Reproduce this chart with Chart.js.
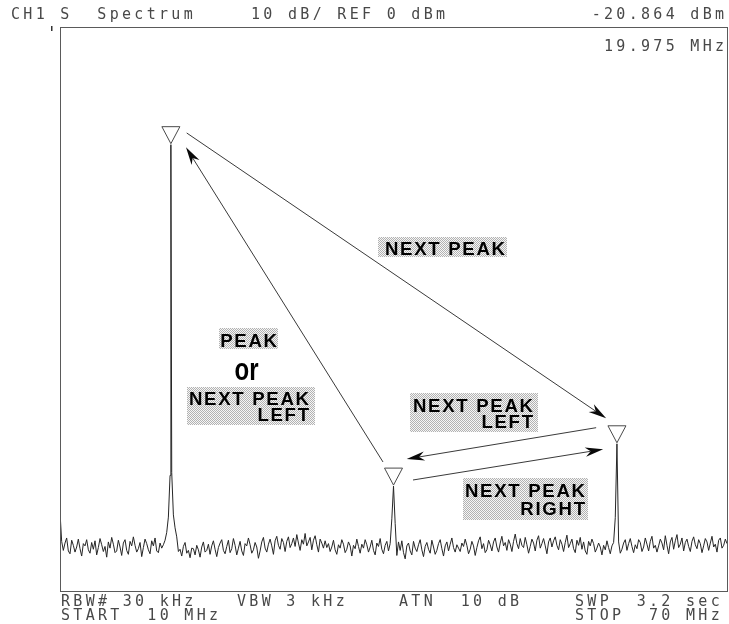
<!DOCTYPE html>
<html>
<head>
<meta charset="utf-8">
<title>CH1 Spectrum</title>
<script src="https://cdn.jsdelivr.net/npm/chart.js@4"></script>
<style>
  html, body { margin: 0; padding: 0; background: #fff; }
  canvas { display: block; }
</style>
</head>
<body>
<canvas id="spec" width="729" height="624"></canvas>
<script>
// sweep setup
var startMHz = 10;
var stopMHz = 70;
var refLevel = 0;       // dBm at top of screen
var bottomLevel = -100; // 10 dB/div, 10 divisions

// swept trace, 401 points from START to STOP, dBm
var noise = [
  -86.0, -91.2, -92.8, -91.5, -90.6, -92.9, -93.4, -91.0, -91.9, -93.1, -92.2, -90.8, -92.5, -93.8, -91.6, -92.0, -90.9, -92.7, -93.3, -91.4,
  -92.6, -91.1, -93.6, -92.3, -90.7, -91.8, -93.0, -92.1, -94.0, -91.3, -92.4, -90.5, -91.7, -93.2, -92.9, -91.0, -92.2, -93.7, -91.5, -90.9,
  -92.8, -93.5, -91.2, -92.0, -90.4, -91.9, -93.1, -92.5, -91.4, -93.9, -92.3, -90.8, -91.6, -92.7, -93.4, -91.1, -92.0, -90.6, -92.9, -93.2,
  -91.5, -92.4, -91.8, -92.3, -91.7, -92.9, -91.4, -92.6, -93.0, -92.2, -91.8, -93.0, -92.6, -93.8, -92.1, -91.4, -93.3, -92.8, -94.1, -92.4,
  -92.5, -93.6, -91.9, -92.7, -94.0, -92.2, -91.3, -93.1, -92.8, -91.7, -93.5, -92.0, -91.1, -92.6, -93.9, -92.3, -91.5, -90.9, -92.8, -93.4,
  -92.1, -91.0, -93.2, -92.5, -90.7, -91.9, -93.6, -92.4, -91.2, -92.9, -93.7, -91.6, -92.0, -90.6, -91.8, -93.3, -92.7, -91.4, -92.2, -94.2,
  -92.9, -91.3, -90.5, -92.4, -93.1, -91.7, -90.8, -92.0, -93.5, -91.1, -90.3, -91.9, -92.6, -90.7, -91.4, -93.0, -91.2, -90.4, -92.3, -91.6,
  -90.6, -92.1, -90.0, -91.5, -92.8, -90.9, -91.7, -89.8, -92.0, -91.3, -90.5, -92.7, -91.0, -90.2, -91.8, -93.1, -90.8, -91.5, -92.4, -91.1,
  -92.3, -91.6, -93.0, -92.2, -91.0, -92.7, -93.5, -91.8, -92.4, -90.9, -91.7, -93.2, -92.6, -91.3, -92.0, -93.8, -91.9, -92.5, -90.8, -92.1,
  -93.3, -91.7, -92.4, -90.9, -91.8, -93.1, -92.2, -91.0, -92.8, -93.6, -91.5, -92.1, -90.7, -92.6, -93.4, -91.9, -91.2, -92.9, -91.6, -90.8,
  -92.0, -92.4, -93.7, -91.3, -92.8, -91.1, -93.2, -94.3, -92.0, -91.5, -92.9, -93.6, -91.2, -92.4, -93.0, -91.8, -90.9, -92.7, -93.9, -92.1,
  -91.4, -92.6, -93.3, -91.0, -92.2, -93.5, -92.8, -91.6, -90.9, -92.5, -93.8, -92.0, -91.3, -92.9, -91.7, -90.6, -92.3, -93.1, -91.8, -92.4,
  -93.0, -91.5, -92.1, -90.8, -91.9, -93.4, -92.6, -91.2, -92.0, -93.7, -92.3, -91.1, -90.4, -92.5, -91.6, -93.2, -92.7, -91.0, -91.8, -92.9,
  -91.3, -90.6, -92.2, -93.1, -91.5, -90.3, -92.0, -91.4, -92.8, -90.9, -91.7, -93.0, -91.2, -89.9, -91.6, -92.5, -90.7, -91.9, -92.3, -90.5,
  -91.8, -93.3, -92.1, -90.8, -91.5, -92.9, -91.0, -90.2, -92.4, -91.6, -90.7, -92.0, -93.4, -91.3, -90.6, -92.2, -91.1, -90.4, -91.9, -92.7,
  -90.9, -91.7, -93.0, -91.4, -90.1, -92.3, -91.6, -90.8, -92.5, -93.2, -91.0, -91.9, -90.5, -92.6, -91.3, -92.9, -93.5, -91.2, -92.0, -90.8,
  -91.6, -93.1, -92.4, -91.5, -92.2, -93.6, -91.9, -92.7, -91.1, -92.3, -93.4, -92.0, -91.4, -92.5, -92.0, -91.3, -93.3, -92.6, -91.5, -90.9,
  -92.8, -91.6, -90.7, -92.1, -93.2, -91.8, -92.5, -90.9, -91.4, -93.0, -92.2, -90.6, -91.7, -92.9, -91.2, -90.3, -92.4, -91.9, -93.1, -92.0,
  -90.8, -91.5, -92.7, -90.2, -91.9, -93.4, -91.3, -90.5, -92.6, -91.1, -90.0, -92.3, -91.7, -90.6, -92.9, -91.4, -90.8, -92.1, -93.0, -91.2,
  -90.4, -91.8, -92.5, -90.9, -91.6, -93.2, -92.0, -90.7, -91.3, -92.8, -91.5, -90.3, -92.2, -91.7, -93.1, -91.0, -90.6, -92.4, -91.9, -90.8,
  -91.6
];

// trace samples on the skirts of the three signals
var skirtFreq  = [19.45, 19.6, 19.75, 19.9, 20.05, 20.2, 20.35, 20.5, 39.85, 40.15, 59.95];
var skirtLevel = [-91.0, -89.6, -86.9, -79.5, -79.0, -86.5, -88.8, -90.4, -87.2, -88.0, -87.0];

// signal peaks; the three markers sit on these
var peakFreq  = [19.975, 40.0, 60.1];
var peakLevel = [-20.864, -81.4, -73.9];
var activeMarker = 0;

// build the x/y trace
var step = (stopMHz - startMHz) / (noise.length - 1);
var trace = noise.map(function (v, k) { return { x: startMHz + k * step, y: v }; });
function sampleAt(f) { return Math.round((f - startMHz) / step); }
skirtFreq.forEach(function (f, i) { trace[sampleAt(f)].y = skirtLevel[i]; });
peakFreq.forEach(function (f, i) {
  var k = sampleAt(f);
  if (Math.abs(trace[k].x - f) < 0.01) trace[k].y = peakLevel[i];
  else trace.push({ x: f, y: peakLevel[i] });
});
trace.sort(function (a, b) { return a.x - b.x; });

var annot = [
  { box: [378, 237, 129, 20], lines: [['NEXT PEAK', 505, 255]] },
  { box: [219, 328, 59, 21],  lines: [['PEAK', 277, 347]] },
  { box: [187, 387, 128, 38], lines: [['NEXT PEAK', 309, 405], ['LEFT', 309, 421]] },
  { box: [410, 393, 128, 39], lines: [['NEXT PEAK', 533, 412], ['LEFT', 533, 428]] },
  { box: [463, 478, 125, 42], lines: [['NEXT PEAK', 585, 497], ['RIGHT', 585, 515]] }
];

// [from marker, dx, dy, to marker, dx, dy]
var arrows = [
  [0, 15.8, -11.7, 2, -10.8, -25.5],
  [1, -10.5, -24.1, 0, 15.1, 2.6],
  [2, -20.8, -16.1, 1, 13.2, -27.1],
  [1, 19.5, -6.1, 2, -13.8, 5.5]
];

function stipple(ctx) {
  var c = document.createElement('canvas');
  c.width = 2; c.height = 2;
  var p = c.getContext('2d');
  p.fillStyle = '#f6f6f6'; p.fillRect(0, 0, 2, 2);
  p.fillStyle = '#b2b2b2'; p.fillRect(0, 0, 1, 1); p.fillRect(1, 1, 1, 1);
  return ctx.createPattern(c, 'repeat');
}

function spacedText(ctx, t, x, y, spacing, align) {
  ctx.letterSpacing = spacing + 'px';
  var w = ctx.measureText(t).width - spacing;
  var left = align === 'right' ? x - w : x;
  ctx.textAlign = 'left';
  ctx.fillText(t, left, y);
}

function arrowTo(ctx, x1, y1, x2, y2) {
  var ang = Math.atan2(y2 - y1, x2 - x1);
  var L = 18, hw = 4.6;
  ctx.beginPath();
  ctx.moveTo(x1, y1);
  ctx.lineTo(x2 - Math.cos(ang) * L * 0.7, y2 - Math.sin(ang) * L * 0.7);
  ctx.stroke();
  ctx.save();
  ctx.translate(x2, y2);
  ctx.rotate(ang);
  ctx.beginPath();
  ctx.moveTo(0, 0);
  ctx.lineTo(-L, -hw);
  ctx.lineTo(-L * 0.7, 0);
  ctx.lineTo(-L, hw);
  ctx.closePath();
  ctx.fill();
  ctx.restore();
}

var overlay = {
  id: 'overlay',
  beforeDraw: function (chart) {
    var ctx = chart.ctx;
    ctx.save();
    ctx.fillStyle = '#fff';
    ctx.fillRect(0, 0, chart.width, chart.height);
    ctx.restore();
  },
  afterDraw: function (chart) {
    var ctx = chart.ctx, a = chart.chartArea;
    var xs = chart.scales.x, ys = chart.scales.y;
    ctx.save();

    // graticule frame
    ctx.strokeStyle = '#5a5a5a';
    ctx.lineWidth = 1;
    ctx.strokeRect(a.left + 0.5, a.top + 0.5, a.right - a.left, a.bottom - a.top);
    // reference level tick
    ctx.fillStyle = '#333';
    ctx.fillRect(51, 26, 1.5, 5);

    // markers
    var m = peakFreq.map(function (f, i) {
      return { x: xs.getPixelForValue(f), y: ys.getPixelForValue(peakLevel[i]) };
    });
    ctx.strokeStyle = '#4a4a4a';
    m.forEach(function (p) {
      var tipY = p.y - 1;
      ctx.beginPath();
      ctx.moveTo(p.x, tipY);
      ctx.lineTo(p.x - 9, tipY - 17);
      ctx.lineTo(p.x + 9, tipY - 17);
      ctx.closePath();
      ctx.stroke();
    });

    // arrows between markers
    ctx.strokeStyle = '#3a3a3a';
    ctx.fillStyle = '#0a0a0a';
    arrows.forEach(function (r) {
      var p = m[r[0]], q = m[r[3]];
      arrowTo(ctx, p.x + r[1], p.y + r[2], q.x + r[4], q.y + r[5]);
    });

    // key labels
    var pat = stipple(ctx);
    ctx.font = 'bold 18.6px "Liberation Sans", Arial, sans-serif';
    ctx.textBaseline = 'alphabetic';
    annot.forEach(function (n) {
      ctx.fillStyle = pat;
      ctx.fillRect(n.box[0], n.box[1], n.box[2], n.box[3]);
      ctx.fillStyle = '#000';
      n.lines.forEach(function (l) { spacedText(ctx, l[0], l[1], l[2], 1.7, 'right'); });
    });
    ctx.save();
    ctx.translate(246.5, 380);
    ctx.scale(1, 1.3);
    ctx.font = 'bold 24px "Liberation Sans", Arial, sans-serif';
    ctx.letterSpacing = '0px';
    ctx.textAlign = 'center';
    ctx.fillStyle = '#000';
    ctx.fillText('or', 0, 0);
    ctx.restore();

    // instrument annotation
    ctx.font = '15px "DejaVu Sans Mono", monospace';
    ctx.fillStyle = '#484848';
    var sp = 3.3;
    spacedText(ctx, 'CH1 S  Spectrum', 11, 19, sp, 'left');
    spacedText(ctx, '10 dB/ REF ' + refLevel + ' dBm', 251, 19, sp, 'left');
    spacedText(ctx, peakLevel[activeMarker].toFixed(3) + ' dBm', 724, 19, sp, 'right');
    spacedText(ctx, peakFreq[activeMarker].toFixed(3) + ' MHz', 724, 51, sp, 'right');
    spacedText(ctx, 'RBW# 30 kHz', 61, 606, sp, 'left');
    spacedText(ctx, 'VBW 3 kHz', 237, 606, sp, 'left');
    spacedText(ctx, 'ATN  10 dB', 399, 606, sp, 'left');
    spacedText(ctx, 'SWP  3.2 sec', 575, 606, sp, 'left');
    spacedText(ctx, 'START  ' + startMHz + ' MHz', 61, 620, sp, 'left');
    spacedText(ctx, 'STOP  ' + stopMHz + ' MHz', 575, 620, sp, 'left');

    ctx.restore();
  }
};

new Chart(document.getElementById('spec').getContext('2d'), {
  type: 'line',
  data: {
    datasets: [{
      data: trace,
      borderColor: '#262626',
      borderWidth: 1,
      pointRadius: 0,
      tension: 0,
      fill: false
    }]
  },
  options: {
    responsive: false,
    animation: false,
    devicePixelRatio: 1,
    layout: { padding: { left: 60, right: 2, top: 27, bottom: 33 } },
    scales: {
      x: { type: 'linear', min: startMHz, max: stopMHz, display: false },
      y: { min: bottomLevel, max: refLevel, display: false }
    },
    plugins: { legend: { display: false }, tooltip: { enabled: false } }
  },
  plugins: [overlay]
});
</script>
</body>
</html>
